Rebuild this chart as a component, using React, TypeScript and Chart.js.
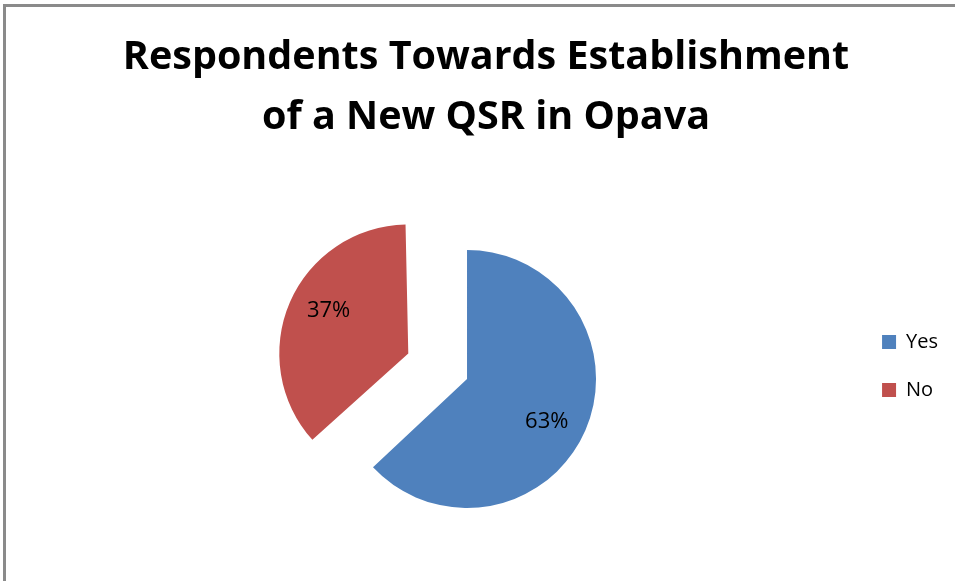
import { useEffect, useRef } from 'react';
import { Chart, registerables } from 'chart.js';

Chart.register(...registerables);

// ---- data ----
const titleLines = ['Respondents Towards Establishment', 'of a New QSR in Opava'];
const categories = ['Yes', 'No'];
const shares = [63, 37];
const sliceColors = ['#4F81BD', '#C0504D'];

// ---- presentation constants ----
const FONT = '"Open Sans"';
const PIE_RADIUS = 129;
const EXPLODE_PX = 64; // visual shift of the exploded "No" slice
const LABEL_ANGLE_NUDGE = 0.08; // radians, clockwise

// Chart.js translates an offset arc by offset/4 and also enlarges its radius;
// shrink the stored radius so the exploded slice keeps the same visible size.
const offsetRadiusFix = {
  id: 'offsetRadiusFix',
  afterDatasetsUpdate(chart: any) {
    const meta = chart.getDatasetMeta(0);
    meta.data.forEach((arc: any) => {
      const off = (arc.options?.offset || 0) / 4;
      const circ = arc.circumference ?? arc.endAngle - arc.startAngle;
      const fix = 1 - Math.sin(Math.min(Math.PI, circ));
      arc.outerRadius = PIE_RADIUS - off * fix;
    });
  },
};

const sliceLabels = {
  id: 'sliceLabels',
  afterDatasetsDraw(chart: any) {
    const ctx = chart.ctx;
    const meta = chart.getDatasetMeta(0);
    ctx.save();
    ctx.font = `22px ${FONT}`;
    ctx.fillStyle = '#000';
    ctx.textAlign = 'center';
    ctx.textBaseline = 'middle';
    meta.data.forEach((arc: any, i: number) => {
      const mid = (arc.startAngle + arc.endAngle) / 2;
      const shift = (arc.options?.offset || 0) / 4;
      const vx = arc.x + Math.cos(mid) * shift;
      const vy = arc.y + Math.sin(mid) * shift;
      const a = mid + LABEL_ANGLE_NUDGE;
      const d = PIE_RADIUS * 0.7;
      ctx.fillText(`${shares[i]}%`, vx + Math.cos(a) * d, vy + Math.sin(a) * d);
    });
    ctx.restore();
  },
};

export default function App() {
  const canvasRef = useRef<HTMLCanvasElement>(null);

  useEffect(() => {
    const chart = new Chart(canvasRef.current!, {
      type: 'pie',
      data: {
        labels: categories,
        datasets: [
          {
            data: shares,
            backgroundColor: sliceColors,
            borderWidth: 0,
            radius: PIE_RADIUS,
            offset: categories.map((c) => (c === 'No' ? EXPLODE_PX * 4 : 0)),
          } as any,
        ],
      },
      options: {
        responsive: false,
        animation: false,
        devicePixelRatio: 1,
        layout: { padding: { left: 24, right: 7, top: 0, bottom: 127 } },
        plugins: {
          title: {
            display: true,
            text: titleLines,
            color: '#000',
            fullSize: true,
            font: { family: FONT, size: 39.5, weight: 'bold', lineHeight: '60px' },
            padding: { top: 28, bottom: 156 },
          },
          // invisible spacer on the left so the pie sits left of the title centre
          subtitle: {
            display: true,
            position: 'left',
            fullSize: false,
            text: '',
            padding: 0,
            font: { size: 10, lineHeight: '56px' },
          },
          legend: {
            position: 'right',
            align: 'start',
            fullSize: false,
            labels: {
              color: '#000',
              font: { family: FONT, size: 20 },
              boxWidth: 14,
              boxHeight: 14,
              padding: 28,
            },
          },
          tooltip: { enabled: false },
        },
      } as any,
      plugins: [offsetRadiusFix, sliceLabels],
    });
    return () => chart.destroy();
  }, []);

  return (
    <div
      style={{
        position: 'fixed',
        left: 0,
        top: 0,
        width: 955,
        height: 581,
        overflow: 'hidden',
        background: '#fff',
      }}
    >
      <div
        style={{
          position: 'absolute',
          left: 3,
          top: 4,
          width: 2000,
          height: 2000,
          borderLeft: '3px solid #8a8a8a',
          borderTop: '3px solid #8a8a8a',
        }}
      />
      <canvas
        ref={canvasRef}
        width={955}
        height={581}
        style={{ position: 'absolute', left: 0, top: 0 }}
      />
    </div>
  );
}
